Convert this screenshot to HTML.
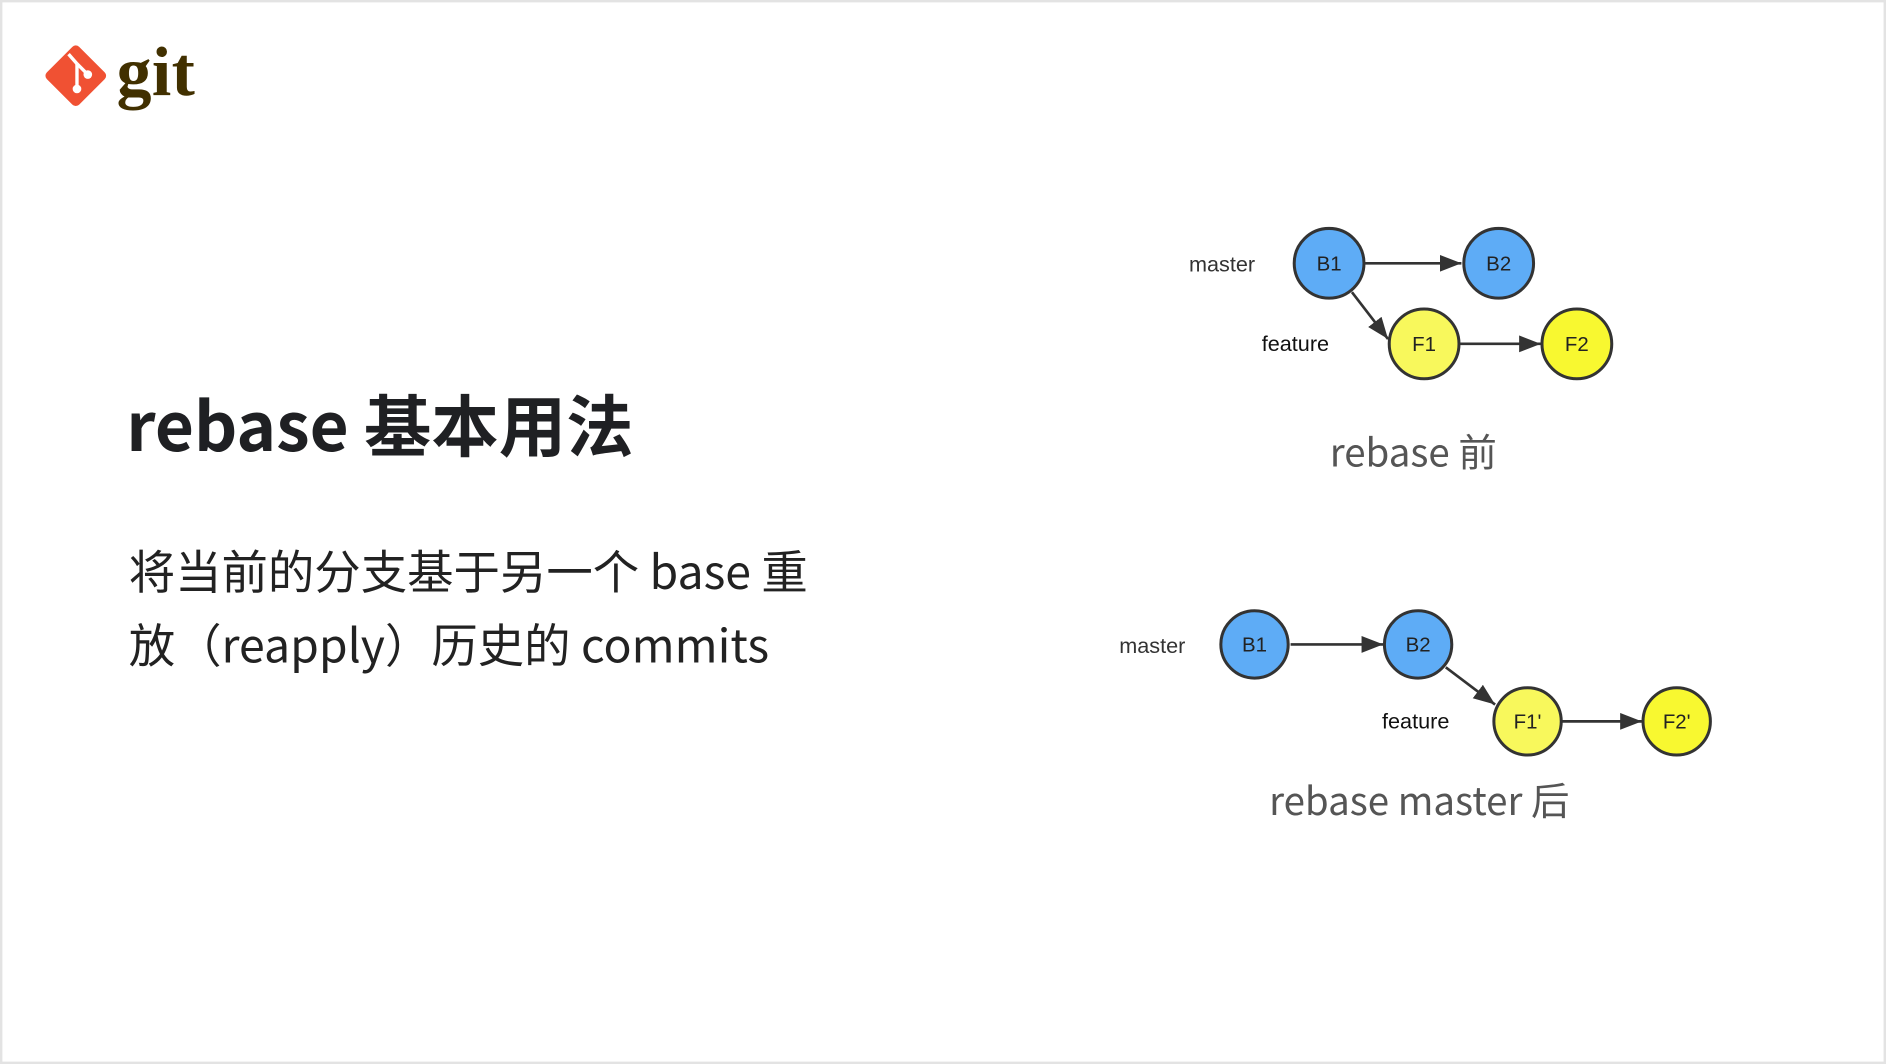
<!DOCTYPE html>
<html><head><meta charset="utf-8"><style>
html,body{margin:0;padding:0;background:#fff;overflow:hidden}
#w{position:absolute;left:0;top:0;width:1568px;height:885px;transform:scale(1.2028,1.2023);transform-origin:0 0;background:#fff}
.t{position:absolute;white-space:nowrap;font-family:"Noto Sans CJK SC","Liberation Sans",sans-serif}
</style></head><body><div id="w">
<div style="position:absolute;left:0;top:0;width:1564px;height:881px;border:2px solid #e3e3e3"></div>
<svg style="position:absolute;left:0;top:0" width="1568" height="885">
<g transform="translate(63,63) rotate(45)"><rect x="-19" y="-19" width="38" height="38" rx="4" fill="#f05133"/></g>
<g stroke="#fff" stroke-width="2.8" fill="none"><line x1="57" y1="45" x2="64" y2="53"/><line x1="64" y1="53" x2="64" y2="73"/><line x1="64" y1="53" x2="72" y2="61"/></g>
<circle cx="64" cy="74" r="3.6" fill="#fff"/><circle cx="73" cy="62" r="3.6" fill="#fff"/>
<text x="97" y="79" font-family="Liberation Serif,serif" font-weight="bold" font-size="58" fill="#413000" textLength="65">git</text>
<defs><marker id="a" markerWidth="20" markerHeight="16" refX="18" refY="7" orient="auto" markerUnits="userSpaceOnUse"><path d="M0,0 L18,7 L0,14 Z" fill="#333"/></marker></defs>
<g stroke="#333" stroke-width="2.2" fill="none">
<line x1="1135" y1="219" x2="1215" y2="219" marker-end="url(#a)"/>
<line x1="1124" y1="243" x2="1154" y2="282" marker-end="url(#a)"/>
<line x1="1214" y1="286" x2="1281" y2="286" marker-end="url(#a)"/>
<line x1="1073" y1="536" x2="1150" y2="536" marker-end="url(#a)"/>
<line x1="1202" y1="555" x2="1243" y2="586" marker-end="url(#a)"/>
<line x1="1299" y1="600" x2="1365" y2="600" marker-end="url(#a)"/>
</g>
<g stroke="#333" stroke-width="2.5">
<ellipse cx="1105" cy="219" rx="29" ry="29" fill="#5eacf6"/>
<ellipse cx="1246" cy="219" rx="29" ry="29" fill="#5eacf6"/>
<ellipse cx="1184" cy="286" rx="29" ry="29" fill="#f8f85c"/>
<ellipse cx="1311" cy="286" rx="29" ry="29" fill="#f8f830"/>
<ellipse cx="1043" cy="536" rx="28" ry="28" fill="#5eacf6"/>
<ellipse cx="1179" cy="536" rx="28" ry="28" fill="#5eacf6"/>
<ellipse cx="1270" cy="600" rx="28" ry="28" fill="#f8f85c"/>
<ellipse cx="1394" cy="600" rx="28" ry="28" fill="#f8f830"/>
</g>
<g font-family="Liberation Sans,sans-serif" font-size="17" fill="#222" text-anchor="middle">
<text x="1105" y="225">B1</text><text x="1246" y="225">B2</text><text x="1184" y="292">F1</text><text x="1311" y="292">F2</text>
<text x="1043" y="542">B1</text><text x="1179" y="542">B2</text><text x="1270" y="606">F1'</text><text x="1394" y="606">F2'</text>
<text x="1016" y="226" fill="#333" font-size="18">master</text><text x="1077" y="292" fill="#111" font-size="18">feature</text>
<text x="958" y="543" fill="#333" font-size="18">master</text><text x="1177" y="606" fill="#111" font-size="18">feature</text>
</g>
</svg>
<div class="t" style="left:105px;top:314px;font-size:56px;font-weight:bold;color:#1f2023;line-height:76px">rebase 基本用法</div>
<div class="t" style="left:107px;top:444px;font-size:38.6px;color:#222;line-height:61px">将当前的分支基于另一个 base 重<br>放（reapply）历史的 commits</div>
<div class="t" style="left:1175px;top:354px;transform:translateX(-50%);font-size:32px;color:#555;line-height:42px">rebase 前</div>
<div class="t" style="left:1180px;top:644px;transform:translateX(-50%);font-size:32px;color:#555;line-height:42px">rebase master 后</div>
</div></body></html>
